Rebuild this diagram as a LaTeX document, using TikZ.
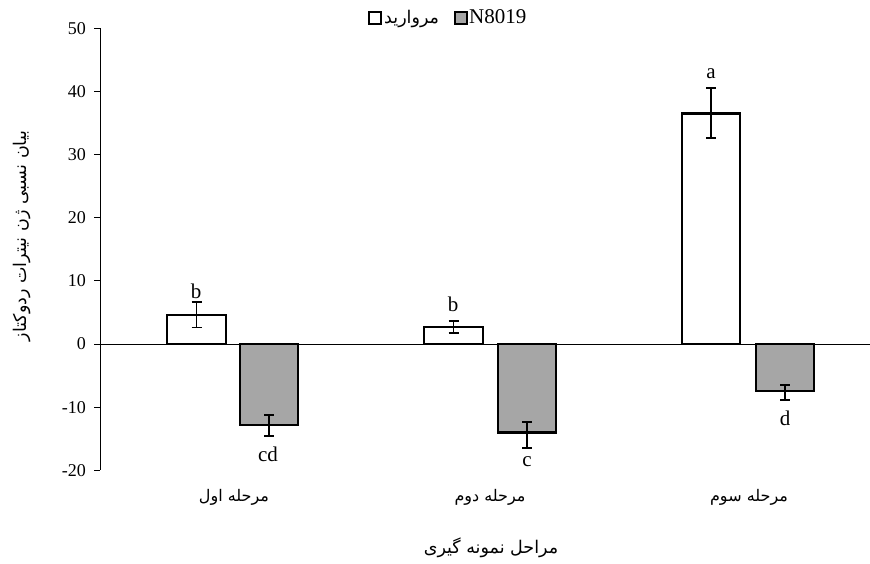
\documentclass[tikz,border=0pt]{standalone}
\usepackage{fontspec}
\setmainfont{Liberation Serif}
\newfontfamily\arabicfont[Script=Arabic]{DejaVu Sans}
\TeXXeTstate=1
\definecolor{barGray}{RGB}{166,166,166}
\newcommand{\errbarX}[3]{\draw[err] (#1,#2) -- (#1,#3) (#1-5,#2) -- (#1+5,#2) (#1-5,#3) -- (#1+5,#3);}
\begin{document}
\begin{tikzpicture}[x=1pt,y=-1pt,
  lbl/.style={font=\fontsize{21}{21}\selectfont, inner sep=0pt},
  ticklbl/.style={font=\fontsize{18}{18}\selectfont, anchor=east, inner sep=0pt},
  ar/.style={font=\arabicfont\fontsize{16}{16}\selectfont, inner sep=0pt},
  bigar/.style={font=\arabicfont\fontsize{17.5}{17.5}\selectfont, inner sep=0pt},
  barW/.style={draw=black, line width=2.2pt, fill=white},
  barG/.style={draw=black, line width=2.2pt, fill=barGray},
  err/.style={draw=black, line width=1.8pt},
  axisline/.style={draw=black, line width=0.8pt},
]
\useasboundingbox (0,0) rectangle (870,563);
\fill[white] (0,0) rectangle (870,563);
\begin{scope}[shift={(0,344)}, y=6.314pt]
  \draw[axisline] (100,50) -- (100,-20);
  \foreach \v [count=\i] in {50,40,30,20,10,0,-10,-20} {
    \draw[axisline] (94,\v) -- (100,\v);
    \node[ticklbl] (tick\i) at (86,\v) {\v};
  }
  \draw[axisline] (100,0) -- (870,0);
  % bars
  \draw[barW] (167,0) rectangle (226,4.6);
  \draw[barG] (240,0) rectangle (298,-12.8);
  \draw[barW] (424,0) rectangle (483,2.7);
  \draw[barG] (498,0) rectangle (556,-14.0);
  \draw[barW] (682,0) rectangle (740,36.5);
  \draw[barG] (756,0) rectangle (814,-7.5);
  % error bars
  \errbarX{196.5}{2.6}{6.7}
  \errbarX{269}{-11.2}{-14.6}
  \errbarX{453.5}{1.7}{3.6}
  \errbarX{527}{-12.4}{-16.5}
  \errbarX{711}{32.6}{40.5}
  \errbarX{785}{-6.5}{-8.9}
\end{scope}
% letters
\node[lbl] (l1) at (196,291) {b};
\node[lbl] (l2) at (268,454) {cd};
\node[lbl] (l3) at (453,304) {b};
\node[lbl] (l4) at (527,462) {c};
\node[lbl] (l5) at (711,74) {a};
\node[lbl] (l6) at (785,418) {d};
% legend
\draw[black, line width=2pt, fill=white] (369,12) rectangle (381,24);
\node[bigar, anchor=west] (leg1) at (384,19) {\beginR مروارید\endR};
\draw[black, line width=2pt, fill=barGray] (455,12) rectangle (467,24);
\node[lbl, anchor=west] (leg2) at (469,17) {N8019};
% category labels
\node[ar] (c1) at (234,497) {\beginR مرحله اول\endR};
\node[ar] (c2) at (490,497) {\beginR مرحله دوم\endR};
\node[ar] (c3) at (749,497) {\beginR مرحله سوم\endR};
\node[bigar] (xt) at (491,548) {\beginR مراحل نمونه گیری\endR};
\node[bigar, rotate=90] (yt) at (22,236) {\beginR بیان نسبی ژن نیترات ردوکتاز\endR};
\end{tikzpicture}
\end{document}
